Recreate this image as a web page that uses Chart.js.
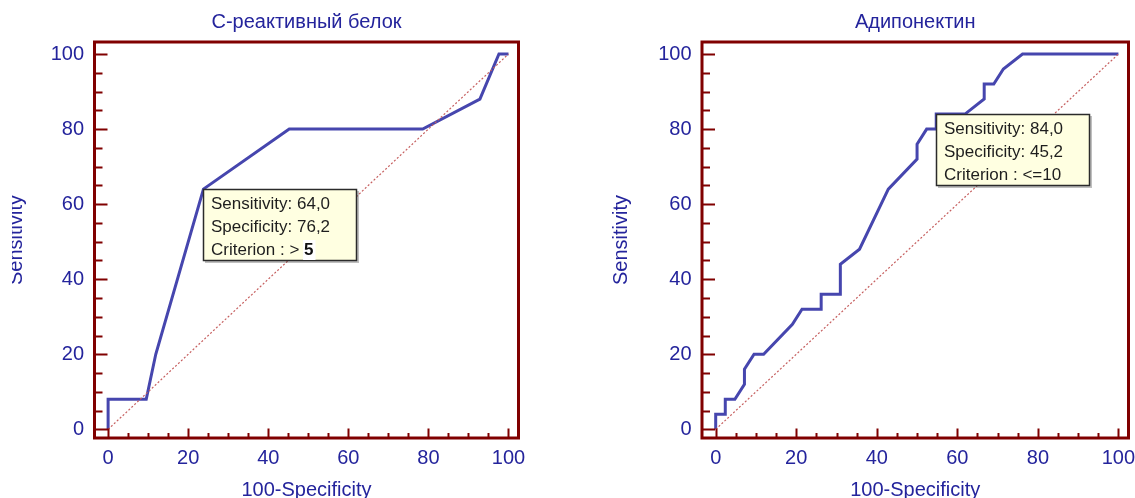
<!DOCTYPE html>
<html>
<head>
<meta charset="utf-8">
<script src="https://cdn.jsdelivr.net/npm/chart.js@4.4.1/dist/chart.umd.min.js"></script>
<style>
  html, body { margin: 0; padding: 0; background: #fff; }
  body { width: 1135px; height: 498px; overflow: hidden; position: relative; }
  #leftWrap { position: absolute; left: 12px; top: 0; width: 553px; height: 498px; overflow: hidden; }
  #crpChart { position: absolute; left: -12px; top: 0; }
  #adipoChart { position: absolute; left: 565px; top: 0; }
</style>
</head>
<body>
<div id="leftWrap"><canvas id="crpChart" width="565" height="510"></canvas></div>
<canvas id="adipoChart" width="600" height="510"></canvas>
<script>
// ROC curves: x = 100-Specificity, y = Sensitivity
const crpFpr  = [0, 0, 9.52, 11.9, 23.81, 45.24, 78.57, 92.86, 97.62, 100];
const crpSens = [0, 8, 8, 20, 64, 80, 80, 88, 100, 100];

const adipoFpr  = [0, 0, 2.38, 2.38, 4.76, 7.14, 7.14, 9.52, 11.9, 19.05, 21.43, 26.19, 26.19, 30.95, 30.95,
                   35.71, 42.86, 50, 50, 52.38, 54.76, 54.76, 61.9, 66.67, 66.67, 69.05, 71.43, 76.19, 100];
const adipoSens = [0, 4, 4, 8, 8, 12, 16, 20, 20, 28, 32, 32, 36, 36, 44,
                   48, 64, 72, 76, 80, 80, 84, 84, 88, 92, 92, 96, 100, 100];

const diagFpr  = [0, 100];
const diagSens = [0, 100];

const axisTicks = [0, 5, 10, 15, 20, 25, 30, 35, 40, 45, 50, 55, 60, 65, 70, 75, 80, 85, 90, 95, 100];

const crpCriterion = [23.81, 64];
const crpBoxLines = ['Sensitivity: 64,0', 'Specificity: 76,2', 'Criterion : > ', '5'];
const adipoCriterion = [54.76, 84];
const adipoBoxLines = ['Sensitivity: 84,0', 'Specificity: 45,2', 'Criterion : <=10'];

const FONT = '"Liberation Sans", Arial, sans-serif';
const BLUE = '#24249c';
const FRAME = '#800000';

function pts(xs, ys) {
  return xs.map((x, i) => ({ x: x, y: ys[i] }));
}

const rocFrame = {
  id: 'rocFrame',
  afterDatasetsDraw(chart, args, opts) {
    const { ctx, scales: { x, y } } = chart;
    const bx = Math.round(x.getPixelForValue(opts.point[0]));
    const by = Math.round(y.getPixelForValue(opts.point[1]));
    const w = 154, h = 72;
    ctx.save();
    ctx.fillStyle = 'rgba(0,0,0,0.25)';
    ctx.fillRect(bx + 2, by + 2, w, h);
    ctx.fillStyle = '#ffffe1';
    ctx.fillRect(bx, by, w, h);
    ctx.strokeStyle = '#2b2b2b';
    ctx.lineWidth = 1.5;
    ctx.strokeRect(bx + 0.5, by + 0.5, w - 1, h - 1);
    ctx.font = '17px ' + FONT;
    ctx.fillStyle = '#1e1e1e';
    ctx.textBaseline = 'middle';
    const lines = opts.lines;
    for (let i = 0; i < 3; i++) {
      ctx.fillText(lines[i], bx + 8, by + 15 + i * 23);
    }
    if (lines.length > 3) {
      // highlighted value after the criterion sign
      const tx = bx + 8 + ctx.measureText(lines[2]).width;
      ctx.font = 'bold 17px ' + FONT;
      const tw = ctx.measureText(lines[3]).width;
      ctx.fillStyle = '#ffffff';
      ctx.fillRect(tx - 1, by + 15 + 2 * 23 - 10, tw + 3, 20);
      ctx.fillStyle = '#101010';
      ctx.fillText(lines[3], tx, by + 15 + 2 * 23);
    }
    ctx.restore();
  },
  afterDraw(chart) {
    const { ctx, chartArea: a, scales: { x, y } } = chart;
    ctx.save();
    ctx.strokeStyle = FRAME;
    ctx.lineWidth = 2;
    ctx.beginPath();
    axisTicks.forEach(v => {
      const major = v % 20 === 0;
      const py = Math.round(y.getPixelForValue(v)) + 0.5;
      ctx.moveTo(a.left, py);
      ctx.lineTo(a.left + (major ? 13 : 8), py);
      const px = Math.round(x.getPixelForValue(v)) + 0.5;
      ctx.moveTo(px, a.bottom);
      ctx.lineTo(px, a.bottom - (major ? 9.5 : 5));
    });
    ctx.stroke();
    ctx.lineWidth = 3;
    ctx.strokeRect(a.left, a.top, a.right - a.left, a.bottom - a.top);
    ctx.restore();
  }
};

function rocChart(id, title, fpr, sens, point, lines, yWidth, padRight, yTitlePad) {
  return new Chart(document.getElementById(id), {
    type: 'line',
    data: {
      datasets: [
        {
          data: pts(diagFpr, diagSens),
          borderColor: '#c65f5f',
          borderWidth: 1.2,
          borderDash: [2, 2],
          pointRadius: 0
        },
        {
          data: pts(fpr, sens),
          borderColor: '#4646ae',
          borderWidth: 3,
          pointRadius: 0,
          tension: 0
        }
      ]
    },
    options: {
      responsive: false,
      animation: false,
      layout: { padding: { left: 0, right: padRight, top: 0, bottom: 0 } },
      plugins: {
        legend: { display: false },
        tooltip: { enabled: false },
        title: {
          display: true,
          text: title,
          fullSize: false,
          color: BLUE,
          font: { family: FONT, size: 20, weight: 'normal' },
          padding: { top: 10, bottom: 8 }
        },
        rocFrame: { point: point, lines: lines }
      },
      scales: {
        x: {
          type: 'linear',
          min: -3.4,
          max: 102.5,
          grid: { display: false, drawTicks: false },
          border: { display: false },
          afterBuildTicks: s => { s.ticks = axisTicks.map(v => ({ value: v })); },
          afterFit: s => { s.height = 72; },
          ticks: {
            autoSkip: false,
            maxRotation: 0,
            padding: 8.5,
            color: BLUE,
            font: { family: FONT, size: 20 },
            callback: v => (v % 20 === 0 ? String(v) : '')
          },
          title: {
            display: true,
            text: '100-Specificity',
            color: BLUE,
            font: { family: FONT, size: 20 },
            padding: { top: 0, bottom: 8 }
          }
        },
        y: {
          type: 'linear',
          min: -2.3,
          max: 103.2,
          grid: { display: false, drawTicks: false },
          border: { display: false },
          afterBuildTicks: s => { s.ticks = axisTicks.map(v => ({ value: v })); },
          afterFit: s => { s.width = yWidth; },
          ticks: {
            autoSkip: false,
            padding: 10.5,
            color: BLUE,
            font: { family: FONT, size: 20 },
            callback: v => (v % 20 === 0 ? String(v) : '')
          },
          title: {
            display: true,
            text: 'Sensitivity',
            color: BLUE,
            font: { family: FONT, size: 20 },
            padding: { top: yTitlePad, bottom: 0 }
          }
        }
      }
    },
    plugins: [rocFrame]
  });
}

rocChart('crpChart', 'С-реактивный белок', crpFpr, crpSens, crpCriterion, crpBoxLines, 94.5, 46.5, 4);
rocChart('adipoChart', 'Адипонектин', adipoFpr, adipoSens, adipoCriterion, adipoBoxLines, 137, 36.5, 44);
</script>
</body>
</html>
